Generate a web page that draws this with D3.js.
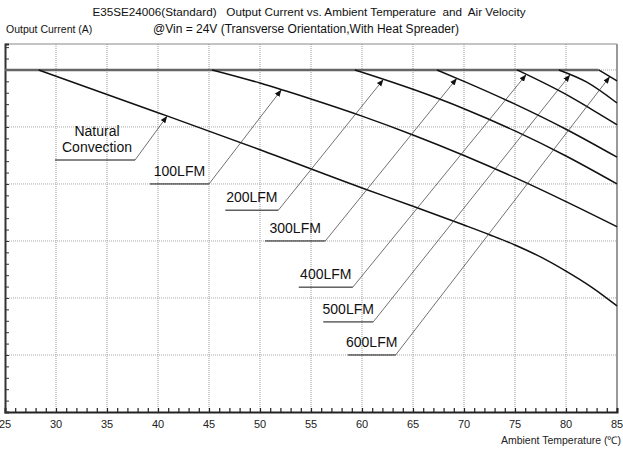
<!DOCTYPE html>
<html>
<head>
<meta charset="utf-8">
<script src="https://cdn.jsdelivr.net/npm/d3@7"></script>
<style>
    body { margin: 0; background: white; }
    svg { font-family: "Liberation Sans", Arial, sans-serif; }
</style>
</head>
<body>
<div class="containerGraph"></div>
<script>
// axis ticks
const xTicks = [25, 30, 35, 40, 45, 50, 55, 60, 65, 70, 75, 80, 85];
const yGrid = [1, 2, 3, 4, 5, 6];
const maxCurrent = 6;

// derating curves (temperature, current)
const naturalTemp = [28.3, 40, 50, 60, 65, 70, 72.5, 75, 77.5, 80, 82.5, 85];
const naturalCur = [6, 5.25, 4.6, 3.93, 3.61, 3.28, 3.11, 2.93, 2.72, 2.47, 2.19, 1.86];
const lfm100Temp = [45.3, 50, 55, 60, 65, 70, 75, 80, 85];
const lfm100Cur = [6, 5.77, 5.49, 5.19, 4.86, 4.5, 4.11, 3.69, 3.25];
const lfm200Temp = [59.3, 60, 65, 70, 75, 80, 85];
const lfm200Cur = [6, 5.96, 5.66, 5.32, 4.93, 4.49, 4.0];
const lfm300Temp = [67.35, 70, 75, 80, 85];
const lfm300Cur = [6, 5.8, 5.4, 4.96, 4.47];
const lfm400Temp = [75.2, 80, 82.5, 85];
const lfm400Cur = [6, 5.57, 5.31, 5.04];
const lfm500Temp = [79.3, 82, 85];
const lfm500Cur = [6, 5.79, 5.42];
const lfm600Temp = [83.2, 85];
const lfm600Cur = [6, 5.81];

// labels: text lines, underline start/end temp, underline current, arrow tip temp
const labelNames = [["Natural", "Convection"], ["100LFM"], ["200LFM"], ["300LFM"], ["400LFM"], ["500LFM"], ["600LFM"]];
const labelFrom = [29.9, 39.2, 46.6, 50.5, 53.8, 56.2, 58.6];
const labelTo = [37.75, 45.0, 51.8, 56.4, 59.1, 61.1, 63.3];
const labelCur = [4.42, 4.0, 3.54, 3.0, 2.19, 1.58, 1.0];
const tipTemp = [40.9, 52.1, 62.1, 69.3, 76.1, 80.4, 84.3];

// build the series
const temps = [naturalTemp, lfm100Temp, lfm200Temp, lfm300Temp, lfm400Temp, lfm500Temp, lfm600Temp];
const currents = [naturalCur, lfm100Cur, lfm200Cur, lfm300Cur, lfm400Cur, lfm500Cur, lfm600Cur];
var series = [];
for (var i = 0; i < temps.length; i++) {
    series.push(temps[i].map(function(t, j) { return {t: t, c: currents[i][j]}; }));
}

const width = 623, height = 450;
const margin = {top: 44, bottom: 38, left: 5, right: 6};

const svg = d3.select(".containerGraph")
              .append("svg")
              .attr("width", width)
              .attr("height", height);

const xScale = d3.scaleLinear()
                 .domain([25, 85])
                 .range([margin.left, width - margin.right]);

const yScale = d3.scaleLinear()
                 .domain([0, 6.455])
                 .range([height - margin.bottom, margin.top]);

const x0 = xScale.range()[0], x1 = xScale.range()[1];
const yb = yScale.range()[0], yt = yScale.range()[1];

// title texts
svg.append("text")
   .attr("x", 309).attr("y", 16)
   .attr("text-anchor", "middle")
   .attr("font-size", 11.7)
   .style("fill", "#111")
   .text("E35SE24006(Standard)\u00a0\u00a0 Output Current vs. Ambient Temperature\u00a0 and\u00a0 Air Velocity");

svg.append("text")
   .attr("x", 306).attr("y", 33)
   .attr("text-anchor", "middle")
   .attr("font-size", 12)
   .style("fill", "#111")
   .text("@Vin = 24V (Transverse Orientation,With Heat Spreader)");

svg.append("text")
   .attr("x", 6).attr("y", 33)
   .attr("font-size", 10.5)
   .style("fill", "#111")
   .text("Output Current (A)");

// grid
svg.append("g").selectAll("line")
   .data(xTicks.slice(1, -1))
   .enter().append("line")
   .attr("x1", d => xScale(d)).attr("x2", d => xScale(d))
   .attr("y1", yt).attr("y2", yb)
   .attr("stroke", "#999")
   .attr("stroke-dasharray", "1,1");

svg.append("g").selectAll("line")
   .data(yGrid)
   .enter().append("line")
   .attr("x1", x0).attr("x2", x1)
   .attr("y1", d => yScale(d)).attr("y2", d => yScale(d))
   .attr("stroke", "#aaa")
   .attr("stroke-dasharray", "1,1");

// top and right frame
svg.append("line")
   .attr("x1", x0).attr("x2", x1).attr("y1", yt).attr("y2", yt)
   .attr("stroke", "#888").attr("stroke-width", 1);
svg.append("line")
   .attr("x1", x1).attr("x2", x1).attr("y1", yt).attr("y2", yb)
   .attr("stroke", "#999").attr("stroke-width", 2);

// x axis with minor ticks pointing in
const xAxis = d3.axisBottom(xScale)
                .tickValues(d3.range(25, 86, 1))
                .tickSize(-4)
                .tickFormat("");
svg.append("g")
   .attr("class", "xAxis")
   .attr("transform", "translate(0," + yb + ")")
   .call(xAxis)
   .call(g => g.select(".domain").attr("stroke-width", 2).attr("stroke", "#222"))
   .call(g => g.selectAll(".tick line").attr("stroke", "#222").attr("stroke-width", 1.2));

svg.append("g").selectAll("text")
   .data(xTicks)
   .enter().append("text")
   .attr("x", d => xScale(d))
   .attr("y", yb + 16)
   .attr("text-anchor", "middle")
   .attr("font-size", 11)
   .style("fill", "#222")
   .text(d => d);

svg.append("text")
   .attr("x", width - 2).attr("y", yb + 32)
   .attr("text-anchor", "end")
   .attr("font-size", 10.5)
   .style("fill", "#222")
   .text("Ambient Temperature (\u2103)");

// y axis, only minor ticks
const yAxis = d3.axisLeft(yScale)
                .tickValues(d3.range(0, 6.45, 0.2))
                .tickSize(-4)
                .tickFormat("");
svg.append("g")
   .attr("class", "yAxis")
   .attr("transform", "translate(" + x0 + ",0)")
   .call(yAxis)
   .call(g => g.select(".domain").attr("stroke-width", 2).attr("stroke", "#333"))
   .call(g => g.selectAll(".tick line").attr("stroke", "#333"));

// flat part of all curves
svg.append("line")
   .attr("x1", x0).attr("x2", xScale(d3.max(temps, d => d[0])))
   .attr("y1", yScale(maxCurrent)).attr("y2", yScale(maxCurrent))
   .attr("stroke", "#666").attr("stroke-width", 2.5);

// derating curves
const line = d3.line()
               .x(d => xScale(d.t))
               .y(d => yScale(d.c))
               .curve(d3.curveMonotoneX);

svg.append("g").selectAll("path")
   .data(series)
   .enter().append("path")
   .attr("d", line)
   .attr("fill", "none")
   .attr("stroke", "#111")
   .attr("stroke-width", 1.5);

// arrow head
svg.append("defs").append("marker")
   .attr("id", "arrow")
   .attr("viewBox", "0 0 10 10")
   .attr("refX", 10).attr("refY", 5)
   .attr("markerWidth", 7).attr("markerHeight", 7)
   .attr("markerUnits", "userSpaceOnUse")
   .attr("orient", "auto")
   .append("path")
   .attr("d", "M0,1 L10,5 L0,9 Z")
   .attr("fill", "#111");

// current on a curve at a given temperature
function curveAt(s, t) {
    var ts = s.map(d => d.t), cs = s.map(d => d.c);
    return d3.scaleLinear().domain(ts).range(cs).clamp(true)(t);
}

// labels with underline and leader
var labels = svg.append("g");
for (var i = 0; i < labelNames.length; i++) {
    var ux0 = xScale(labelFrom[i]), ux1 = xScale(labelTo[i]), uy = yScale(labelCur[i]);
    labels.append("line")
          .attr("x1", ux0).attr("x2", ux1).attr("y1", uy).attr("y2", uy)
          .attr("stroke", "#111").attr("stroke-width", 1);
    labels.append("line")
          .attr("x1", ux1).attr("y1", uy)
          .attr("x2", xScale(tipTemp[i]))
          .attr("y2", yScale(curveAt(series[i], tipTemp[i])))
          .attr("stroke", "#333").attr("stroke-width", 0.7)
          .attr("marker-end", "url(#arrow)");
    var names = labelNames[i];
    for (var j = 0; j < names.length; j++) {
        labels.append("text")
              .attr("x", (ux0 + ux1) / 2 + (names.length > 1 ? 2 : 0))
              .attr("y", uy - 8 - (names.length - 1 - j) * 16)
              .attr("text-anchor", "middle")
              .attr("font-size", 14)
              .style("fill", "#111")
              .text(names[j]);
    }
}
</script>
</body>
</html>
